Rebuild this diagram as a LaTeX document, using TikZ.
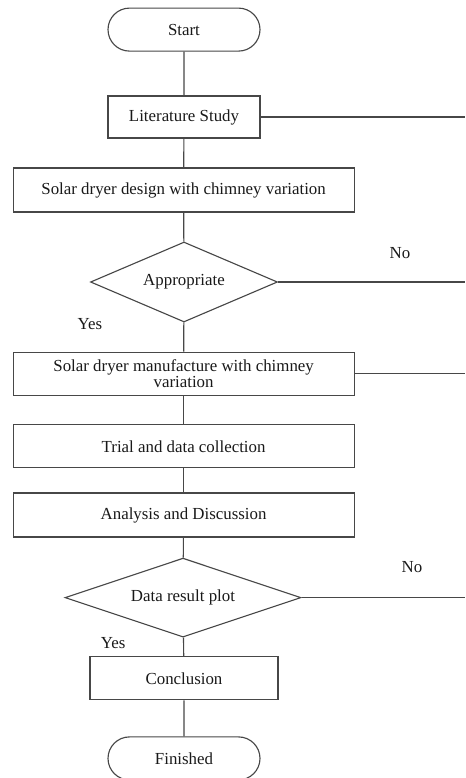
\documentclass[tikz,border=0pt]{standalone}
\usepackage{fontspec}
\setmainfont{Liberation Serif}
\usetikzlibrary{shapes.geometric,shapes.misc}

\tikzset{
  flow/.style={draw=black!72, line width=0.8pt},
  term/.style={flow, rounded rectangle, minimum width=3.8cm, minimum height=1.075cm, inner sep=0pt},
  proc/.style={flow, rectangle, minimum height=1.075cm, inner sep=2pt},
  decide/.style={flow, diamond, inner sep=0pt},
  lbl/.style={text=black!90}
}

\begin{document}
\begin{tikzpicture}[font=\fontsize{12}{13}\selectfont, text=black!90]

        \useasboundingbox (0,0) rectangle (11.625,-19.45);

        \node[term] (start) at (4.6,-0.74) {Start};
        \node[proc, minimum width=3.8cm, minimum height=1.05cm] (lit) at (4.6,-2.925) {Literature Study};
        \node[proc, minimum width=8.525cm, minimum height=1.1cm] (design) at (4.59,-4.75) {Solar dryer design with chimney variation};
        \node[decide, minimum width=4.675cm, minimum height=2cm, aspect=2.34] (approp) at (4.6,-7.05) {Appropriate};
        \node[proc, minimum width=8.525cm, align=center] (manuf) at (4.59,-9.34) {Solar dryer manufacture with chimney\\[-2pt] variation};
        \node[proc, minimum width=8.525cm] (trial) at (4.59,-11.16) {Trial and data collection};
        \node[proc, minimum width=8.525cm, minimum height=1.1cm] (analysis) at (4.59,-12.875) {Analysis and Discussion};
        \node[decide, minimum width=5.9cm, minimum height=1.975cm, aspect=2.99] (plot) at (4.575,-14.94) {Data result plot};
        \node[proc, minimum width=4.7cm] (concl) at (4.6,-16.96) {Conclusion};
        \node[term] (finish) at (4.6,-18.96) {Finished};

        % free ends at the right edge
        \coordinate (litR) at (11.625,-2.925);
        \coordinate (appropR) at (11.625,-7.05);
        \coordinate (manufR) at (11.625,-9.34);
        \coordinate (plotR) at (11.625,-14.94);

        \foreach \a/\b in {start/lit, lit/design, design/approp, approp/manuf,
                           manuf/trial, trial/analysis, analysis/plot, plot/concl, concl/finish}{
          \draw[flow] (\a) -- (\b);
        }

        \draw[flow] (lit.east) -- (litR);
        \draw[flow] (approp.east) -- (appropR);
        \draw[flow] (manuf.east) -- (manufR);
        \draw[flow] (plot.east) -- (plotR);

        \node[lbl] (no1) at (10.0,-6.33) {No};
        \node[lbl] (yes1) at (2.25,-8.1) {Yes};
        \node[lbl] (no2) at (10.3,-14.18) {No};
        \node[lbl] (yes2) at (2.83,-16.08) {Yes};
      \end{tikzpicture}
\end{document}
